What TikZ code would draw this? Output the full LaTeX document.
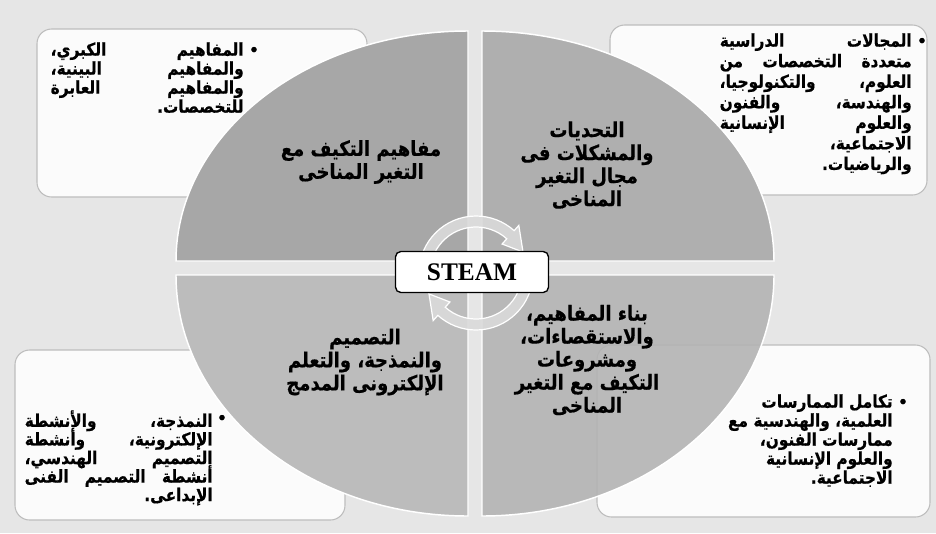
\documentclass[tikz,border=0pt]{standalone}
\usepackage{graphicx}
\usepackage{fontspec}
\setmainfont{Liberation Serif}
\newfontfamily\arabicfont[Script=Arabic, BoldFont={DejaVu Sans Bold}, BoldFeatures={FakeBold=0.6}]{DejaVu Sans}
\TeXXeTstate=1
\definecolor{bgc}{HTML}{E6E6E6}
\definecolor{boxc}{HTML}{FBFBFB}
\definecolor{boxline}{HTML}{BDBDBD}
\definecolor{qtl}{HTML}{A7A7A7}
\definecolor{qtr}{HTML}{AFAFAF}
\definecolor{qbl}{HTML}{BCBCBC}
\definecolor{qbr}{HTML}{B2B2B2}
\definecolor{ringc}{HTML}{DADADA}
\newdimen\linew
\newcommand\jl[1]{\hbox to \linew{\beginR #1\endR}}
\newcommand\rl[1]{\hbox to \linew{\beginR #1\hfill\endR}}
\newcommand\cl[1]{\hbox to \linew{\hfill\beginR #1\endR\hfill}}
\newcommand\tightlines{\lineskiplimit=-100pt\lineskip=0pt}
\newcommand\stretchbox[1]{\scalebox{1}[1.15]{#1}}
\newcommand\qstretch[1]{\scalebox{1}[1.15]{#1}}
\tikzset{
  infobox/.style={draw=boxline, line width=0.8pt, fill=boxc, rounded corners=11pt, inner sep=0pt},
  quad/.style={draw=white, line width=1.1pt},
  qtext/.style={font=\arabicfont\bfseries\fontsize{13.5}{15}\selectfont, inner sep=0pt},
  btext/.style={font=\arabicfont\bfseries\fontsize{11.5}{12.4}\selectfont, inner sep=0pt, anchor=north east},
  bullet/.style={font=\arabicfont\bfseries\fontsize{11}{12}\selectfont, inner sep=0pt},
  ring/.style={fill=ringc, fill opacity=0.9, draw=white, line width=0.9pt},
  steambox/.style={draw=black, line width=1pt, fill=white, rounded corners=4pt,
    minimum width=114.75pt, minimum height=30.75pt,
    font=\bfseries\fontsize{19}{22}\selectfont}
}
\begin{document}
\begin{tikzpicture}[x=0.75pt,y=-0.75pt]
\useasboundingbox (0,0) rectangle (936,533);
\fill[bgc] (0,0) rectangle (936,533);

% info boxes
\node[infobox, minimum width=247.5pt, minimum height=126pt] (boxtl) at (202,113) {};
\node[infobox, minimum width=237.75pt, minimum height=127.5pt] (boxtr) at (768.5,110) {};
\node[infobox, minimum width=247.5pt, minimum height=127.5pt] (boxbl) at (180,435) {};
\node[infobox, minimum width=249.75pt, minimum height=129pt] (boxbr) at (763.5,431) {};

% box texts
\node[bullet] (bultl) at (254,51) {•};
\node[btext] (txttl) at (244,42) {\stretchbox{\linew=144.75pt\vbox{\tightlines
\jl{المفاهيم\hfill الكبري،}
\jl{والمفاهيم\hfill البينية،}
\jl{والمفاهيم\hfill العابرة}
\rl{للتخصصات.}}}};

\node[bullet] (bultr) at (922,42) {•};
\node[btext, font=\arabicfont\bfseries\fontsize{11.5}{13.4}\selectfont] (txttr) at (912,33) {\stretchbox{\linew=144pt\vbox{\tightlines
\jl{المجالات\hfill الدراسية}
\jl{متعددة\hfill التخصصات\hfill من}
\jl{العلوم،\hfill والتكنولوجيا،}
\jl{والهندسة،\hfill والفنون}
\jl{والعلوم\hfill الإنسانية}
\rl{الاجتماعية،}
\rl{والرياضيات.}}}};

\node[bullet] (bulbl) at (222,419) {•};
\node[btext, font=\arabicfont\bfseries\fontsize{11.5}{12.1}\selectfont] (txtbl) at (213,410) {\stretchbox{\linew=141pt\vbox{\tightlines
\jl{النمذجة،\hfill والأنشطة}
\jl{الإلكترونية،\hfill وأنشطة}
\jl{التصميم\hfill الهندسي،}
\jl{أنشطة\hfill التصميم\hfill الفنى}
\rl{الإبداعى.}}}};

\node[bullet] (bulbr) at (903,403) {•};
\node[btext] (txtbr) at (893,394) {\stretchbox{\linew=130pt\vbox{\tightlines
\rl{تكامل الممارسات}
\rl{العلمية، والهندسية مع}
\rl{ممارسات الفنون،}
\rl{والعلوم الإنسانية}
\rl{الاجتماعية.}}}};

% ellipse quadrants
\path[quad, fill=qtl] (468,261) -- (176,261) arc[start angle=180, end angle=90, x radius=219pt, y radius=172.5pt] -- cycle;
\path[quad, fill=qtr] (482,261) -- (482,31) arc[start angle=90, end angle=0, x radius=219pt, y radius=172.5pt] -- cycle;
\path[quad, fill=qbl] (468,275) -- (176,275) arc[start angle=180, end angle=270, x radius=219pt, y radius=180.75pt] -- cycle;
\path[quad, fill=qbr, fill opacity=0.88] (482,275) -- (774,275) arc[start angle=0, end angle=-90, x radius=219pt, y radius=180.75pt] -- cycle;

% quadrant texts
\node[qtext] (qttl) at (361,162) {\qstretch{\linew=140pt\vbox{\tightlines
\cl{مفاهيم التكيف مع}
\cl{التغير المناخى}}}};
\node[qtext] (qttr) at (587,165) {\qstretch{\linew=120pt\vbox{\tightlines
\cl{التحديات}
\cl{والمشكلات فى}
\cl{مجال التغير}
\cl{المناخى}}}};
\node[qtext] (qtbl) at (365,362) {\qstretch{\linew=140pt\vbox{\tightlines
\cl{التصميم}
\cl{والنمذجة، والتعلم}
\cl{الإلكترونى المدمج}}}};
\node[qtext] (qtbr) at (587,360) {\qstretch{\linew=130pt\vbox{\tightlines
\cl{بناء المفاهيم،}
\cl{والاستقصاءات،}
\cl{ومشروعات}
\cl{التكيف مع التغير}
\cl{المناخى}}}};

% circular arrows
\begin{scope}[shift={(476,273)}]
\path[ring] (180:42.75pt) arc[start angle=180, end angle=48, radius=42.75pt]
  -- (48:48pt) -- (24:38.6pt) -- (48:29.25pt) -- (48:34.5pt)
  arc[start angle=48, end angle=180, radius=34.5pt] -- cycle;
\path[ring] (0:42.75pt) arc[start angle=0, end angle=-132, radius=42.75pt]
  -- (-132:48pt) -- (-156:38.6pt) -- (-132:29.25pt) -- (-132:34.5pt)
  arc[start angle=-132, end angle=0, radius=34.5pt] -- cycle;
\end{scope}

\node[steambox] (steam) at (472,272) {STEAM};
\end{tikzpicture}
\end{document}
